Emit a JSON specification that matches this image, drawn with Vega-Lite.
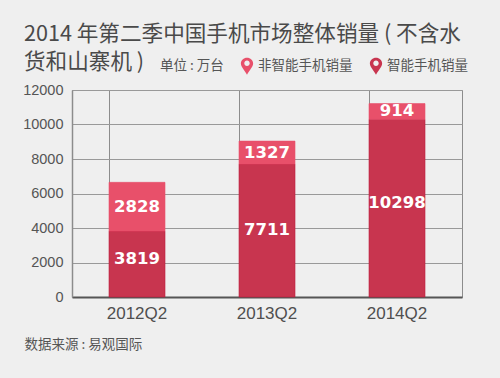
{
"$schema":"https://vega.github.io/schema/vega-lite/v6.json",
"width":390,"height":207,
"autosize":"none",
"padding":{"left":72,"top":90,"right":38,"bottom":81},
"background":"#efefef",
"title":{"text":["2014 年第二季中国手机市场整体销量 ( 不含水","货和山寨机 )"],"anchor":"start","frame":"group","dx":-48,"offset":-34,"font":"Noto Sans CJK SC","fontSize":21.6,"fontWeight":"normal","color":"#4a4a4a","lineHeight":28,"baseline":"alphabetic"},
"config":{"view":{"stroke":"#8c8c8c","strokeWidth":1}},
"data":{"values":[
{"quarter":"2012Q2","series":"智能手机销量","rank":0,"value":3819},
{"quarter":"2012Q2","series":"非智能手机销量","rank":1,"value":2828},
{"quarter":"2013Q2","series":"智能手机销量","rank":0,"value":7711},
{"quarter":"2013Q2","series":"非智能手机销量","rank":1,"value":1327},
{"quarter":"2014Q2","series":"智能手机销量","rank":0,"value":10298},
{"quarter":"2014Q2","series":"非智能手机销量","rank":1,"value":914}
]},
"encoding":{
"x":{"field":"quarter","type":"nominal","title":"数据来源 : 易观国际",
 "scale":{"paddingInner":0.57,"paddingOuter":0.285,"align":0.5},
 "axis":{"labelAngle":0,"labelFont":"Liberation Sans","labelFontSize":17,"labelColor":"#4f4f4f","labelPadding":8,"ticks":false,"grid":true,"bandPosition":0,"gridColor":"#8c8c8c","gridWidth":1,"domainColor":"#555555","domainWidth":2,
 "titleFont":"Noto Sans CJK SC","titleFontSize":13.5,"titleFontWeight":"normal","titleColor":"#555555","titleAnchor":"start","titleAlign":"left","titleX":-48,"titleY":40}},
"y":{"field":"value","type":"quantitative","stack":"zero","scale":{"domain":[0,12000]},"title":null,
 "axis":{"values":[0,2000,4000,6000,8000,10000,12000],"format":"d","labelFont":"Liberation Sans","labelFontSize":14.5,"labelColor":"#555555","labelPadding":9,"ticks":false,"grid":true,"gridColor":"#999999","gridWidth":1,"domainColor":"#8c8c8c","domainWidth":1.5}},
"order":{"field":"rank"},
"detail":{"field":"series"}
},
"layer":[
{"mark":{"type":"bar","size":56,"strokeWidth":1,"strokeOpacity":0.6},
 "encoding":{
 "fill":{"field":"series","type":"nominal","scale":{"domain":["非智能手机销量","智能手机销量"],"range":["#e8506a","#c8354f"]},
  "legend":{"title":"单位 : 万台","titleOrient":"left","orient":"none","legendX":88,"legendY":-33,"direction":"horizontal","columns":2,"symbolType":"M0,1 C-0.3,0.45 -0.72,0.05 -0.72,-0.32 A0.72,0.68 0 1 1 0.72,-0.32 C0.72,0.05 0.3,0.45 0,1 Z M0,-0.66 A0.32,0.32 0 1 0 0,-0.02 A0.32,0.32 0 1 0 0,-0.66 Z","symbolSize":290,"symbolStrokeWidth":0,"labelFont":"Noto Sans CJK SC","labelFontSize":13.5,"labelColor":"#555555","labelOffset":2,"columnPadding":14,"titleFont":"Noto Sans CJK SC","titleFontSize":13.5,"titleFontWeight":"normal","titleColor":"#555555","titlePadding":14}},
 "stroke":{"field":"series","type":"nominal","scale":{"domain":["非智能手机销量","智能手机销量"],"range":["#e8506a","#c01a3c"]},"legend":null}}},
{"mark":{"type":"text","font":"DejaVu Sans","fontWeight":"bold","fontSize":16.5,"color":"#ffffff"},
 "encoding":{"y":{"field":"value","type":"quantitative","stack":"zero","bandPosition":0.5},"text":{"condition":{"test":"datum.value!=3819 && datum.value!=10298","field":"value","type":"nominal"},"value":""}}},
{"mark":{"type":"text","font":"DejaVu Sans","fontWeight":"bold","fontSize":16.5,"color":"#ffffff","dy":-5},
 "encoding":{"y":{"field":"value","type":"quantitative","stack":"zero","bandPosition":0.5},"text":{"condition":{"test":"datum.value==3819 || datum.value==10298","field":"value","type":"nominal"},"value":""}}}
]
}
